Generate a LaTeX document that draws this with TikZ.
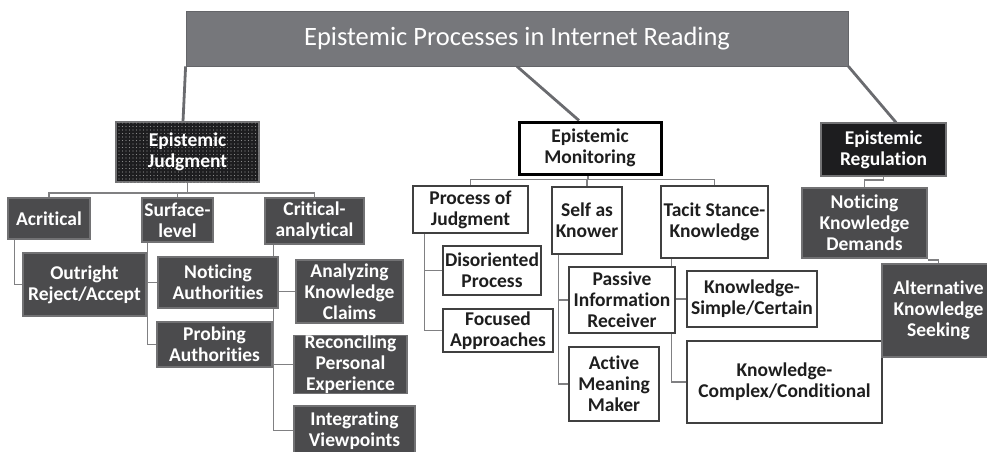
\documentclass[tikz,border=0pt]{standalone}
\usepackage{fontspec}
\setmainfont{Carlito}[Ligatures=NoCommon]
\usetikzlibrary{patterns.meta}
\pgfdeclarelayer{bg}
\pgfsetlayers{bg,main}
\definecolor{titlegray}{HTML}{76777B}
\definecolor{boxgray}{HTML}{4B4B4D}
\definecolor{boxedge}{HTML}{727274}
\definecolor{darkest}{HTML}{1D1D1F}
\definecolor{inkgray}{HTML}{1E1E1E}
\definecolor{linkgray}{HTML}{808082}
\begin{document}
\begin{tikzpicture}[x=1pt,y=-1pt,
  box/.style={draw, align=center, inner sep=0pt, line width=1.2pt,
    font=\bfseries\fontsize{19.5}{21}\selectfont},
  darkbox/.style={box, fill=boxgray, draw=boxedge, text=white},
  lightbox/.style={box, fill=white, draw=inkgray!85, text=inkgray},
  conn/.style={draw=linkgray, line width=1.4pt},
  trunk/.style={draw=titlegray!90!black, line width=2.8pt},
  sz/.style 2 args={minimum width=#1pt, minimum height=#2pt},
]
\path[use as bounding box] (0,0) rectangle (987,452);
\clip (0,0) rectangle (987,452);

% heading
\node[fill=titlegray, draw=titlegray!85!black, line width=0.8pt, text=white,
      inner sep=0pt, sz={662}{55}, font=\fontsize{26.5}{30}\selectfont]
      (title) at (517,38.5) {Epistemic Processes in Internet Reading};

% epistemic judgment branch
\node[box, fill=darkest, draw=boxedge, text=white, sz={143}{60},
      postaction={pattern={Dots[distance=3.5pt, radius=0.6pt]}, pattern color=gray!90}]
      (jud) at (187.5,152) {Epistemic\\Judgment};
\node[darkbox, sz={82}{41}]  (acr)   at (49,218.5)   {Acritical};
\node[darkbox, sz={71}{44}]  (surf)  at (177.5,220)  {Surface-\\level};
\node[darkbox, sz={99}{46}]  (crit)  at (314.5,221)  {Critical-\\analytical};
\node[darkbox, sz={123}{63}] (out)   at (84.5,284.5) {Outright\\Reject/Accept};
\node[darkbox, sz={120}{51}] (noti)  at (218,282.5)  {Noticing\\Authorities};
\node[darkbox, sz={115}{45}] (prob)  at (214.5,344.5) {Probing\\Authorities};
\node[darkbox, sz={107}{63}] (anal)  at (349.5,291.5) {Analyzing\\Knowledge\\Claims};
\node[darkbox, sz={113}{57}] (reco)  at (350.5,364.5) {Reconciling\\Personal\\Experience};
\node[darkbox, sz={121}{49}] (integ) at (354.5,430.5) {Integrating\\Viewpoints};

% epistemic monitoring branch
\node[lightbox, draw=black, line width=3pt, sz={142}{52}] (mon) at (590,148) {Epistemic\\Monitoring};
\node[lightbox, sz={115}{47}] (proc)  at (470.5,209.5) {Process of\\Judgment};
\node[lightbox, sz={70}{67}]  (self)  at (587,220.5)   {Self as\\Knower};
\node[lightbox, sz={107}{72}] (tacit) at (714.5,222)   {Tacit Stance-\\Knowledge};
\node[lightbox, sz={98}{49}]  (diso)  at (492,270.5)   {Disoriented\\Process};
\node[lightbox, sz={110}{43}] (focu)  at (498,330.5)   {Focused\\Approaches};
\node[lightbox, sz={106}{66}] (pass)  at (622,300)     {Passive\\Information\\Receiver};
\node[lightbox, sz={90}{74}]  (acti)  at (614,384)     {Active\\Meaning\\Maker};
\node[lightbox, sz={130}{56}] (simp)  at (752,299)     {Knowledge-\\Simple/Certain};
\node[lightbox, sz={195}{82}] (comp)  at (784.5,382)   {Knowledge-\\Complex/Conditional};

% epistemic regulation branch
\node[box, fill=darkest, draw=boxedge, text=white, sz={125}{53}] (reg) at (883.5,149.5) {Epistemic\\Regulation};
\node[darkbox, sz={125}{70}] (nkd) at (864.5,223)  {Noticing\\Knowledge\\Demands};
\node[darkbox, sz={113}{93}] (alt) at (938.5,310.5) {Alternative\\Knowledge\\Seeking};

% connectors, kept behind the boxes
\coordinate (jbar) at (0,193);
\coordinate (mbar) at (0,179.5);
\coordinate (rbar) at (0,180);
\begin{pgfonlayer}{bg}
  \draw[trunk] (title.south west) -- ([xshift=-4.5pt]jud.north);
  \draw[trunk] (title.south) -- ([xshift=-11pt]mon.north);
  \draw[trunk] (title.south east) -- ([xshift=12.5pt]reg.north);

  \draw[conn] (jud.south) -- (jud.south |- jbar);
  \draw[conn] (acr.north) |- (crit.north |- jbar) -- (crit.north);
  \draw[conn] (surf.north) -- (surf.north |- jbar);
  \draw[conn] ([xshift=7pt]acr.south west) |- (out.west);
  \draw[conn] ([xshift=6pt]surf.south west) |- (noti.west);
  \draw[conn] ([xshift=6pt]surf.south west) |- (prob.west);
  \draw[conn] ([xshift=9pt]crit.south west) |- (anal.west);
  \draw[conn] ([xshift=9pt]crit.south west) |- (reco.west);
  \draw[conn] ([xshift=9pt]crit.south west) |- (integ.west);

  \draw[conn] ([xshift=-2pt]mon.south) -- ([xshift=-2pt]mon.south |- mbar);
  \draw[conn] (proc.north) |- (tacit.north |- mbar) -- (tacit.north);
  \draw[conn] (self.north) -- (self.north |- mbar);
  \draw[conn] ([xshift=12pt]proc.south west) |- (diso.west);
  \draw[conn] ([xshift=12pt]proc.south west) |- (focu.west);
  \draw[conn] ([xshift=7pt]self.south west) |- (pass.west);
  \draw[conn] ([xshift=7pt]self.south west) |- (acti.west);
  \draw[conn] ([xshift=11pt]tacit.south west) |- (simp.west);
  \draw[conn] ([xshift=11pt]tacit.south west) |- (comp.west);

  \draw[conn] (reg.south) -- (reg.south |- rbar) -| (nkd.north);
  \draw[conn] ([yshift=-1.5pt]nkd.south east) -| (alt.north);
\end{pgfonlayer}
\end{tikzpicture}
\end{document}
